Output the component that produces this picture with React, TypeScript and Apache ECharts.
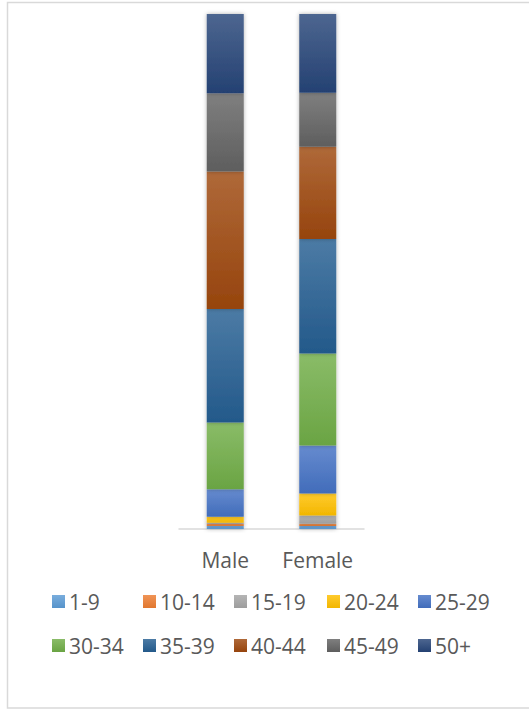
import React, { useEffect, useRef } from "react";
import * as echarts from "echarts";

const categories = ["Male", "Female"];
const ageGroups = ["1-9", "10-14", "15-19", "20-24", "25-29", "30-34", "35-39", "40-44", "45-49", "50+"];
// percentage share of each age group
const male = [0.6, 0.4, 0.2, 1.2, 5.3, 13.0, 22.0, 26.7, 15.2, 15.4];
const female = [0.6, 0.4, 1.6, 4.3, 9.3, 17.9, 22.2, 17.9, 10.5, 15.3];
const colors = ["#5B9BD5", "#ED7D31", "#A5A5A5", "#FFC000", "#4472C4", "#70AD47", "#255E91", "#9E480E", "#636363", "#264478"];

function mix(hex: string, target: number, t: number) {
  const n = parseInt(hex.slice(1), 16);
  const r = (n >> 16) & 255, g = (n >> 8) & 255, b = n & 255;
  const f = (c: number) => Math.round(c + (target - c) * t);
  return `rgb(${f(r)},${f(g)},${f(b)})`;
}

export default function App() {
  const ref = useRef<HTMLDivElement>(null);
  useEffect(() => {
    if (!ref.current) return;
    const chart = echarts.init(ref.current, undefined, { renderer: "svg" });
    const font = "'Open Sans', 'Noto Sans', sans-serif";
    const colX = [52, 143, 234, 327, 418];
    const rowY = [591, 635];
    const legends = ageGroups.map((name, i) => ({
      data: [name],
      left: colX[i % 5],
      top: rowY[Math.floor(i / 5)],
      padding: 0,
      icon: "rect",
      itemWidth: 13,
      itemHeight: 13,
      itemGap: 0,
      textStyle: { color: "#595959", fontSize: 21, fontFamily: font, padding: [0, 0, 0, -1] },
    }));
    chart.setOption({
      animation: false,
      backgroundColor: "#ffffff",
      graphic: [
        {
          type: "rect",
          shape: { x: 7.5, y: 2.5, width: 540, height: 705.5 },
          style: { fill: "none", stroke: "#d9d9d9", lineWidth: 1.5 },
          silent: true,
        },
      ],
      legend: legends,
      grid: { left: 179, right: 165, top: 14, bottom: 181 },
      xAxis: {
        type: "category",
        data: categories,
        axisTick: { show: false },
        axisLine: { lineStyle: { color: "#d9d9d9", width: 1.5 } },
        axisLabel: { color: "#595959", fontSize: 21, fontFamily: font, margin: 20 },
      },
      yAxis: { type: "value", min: 0, max: 100, show: false, splitLine: { show: false } },
      series: ageGroups.map((name, i) => ({
        name,
        type: "bar",
        stack: "total",
        barWidth: 37,
        data: [male[i], female[i]],
        itemStyle: {
          color: new echarts.graphic.LinearGradient(0, 0, 0, 1, [
            { offset: 0, color: mix(colors[i], 255, 0.18) },
            { offset: 1, color: mix(colors[i], 0, 0.05) },
          ]),
          shadowBlur: 4,
          shadowColor: "rgba(0,0,0,0.3)",
        },
      })),
      color: colors,
    });
    return () => chart.dispose();
  }, []);
  return <div ref={ref} style={{ position: "absolute", left: 0, top: 0, width: 529, height: 710 }} />;
}
